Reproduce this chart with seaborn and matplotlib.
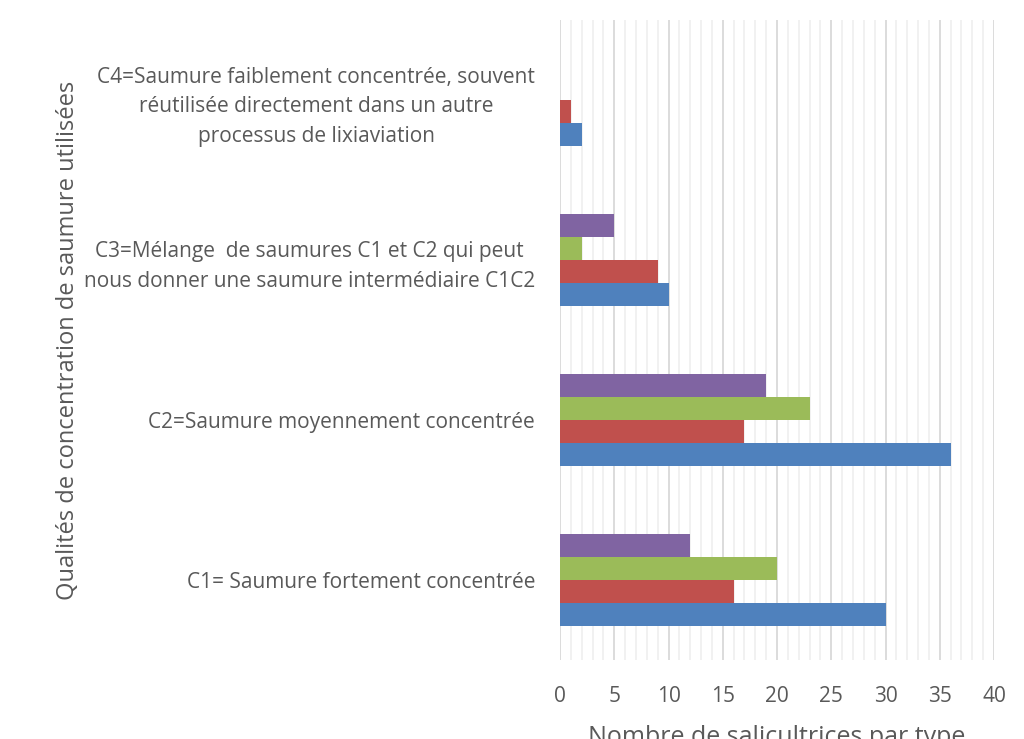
import matplotlib
matplotlib.use("Agg")
import matplotlib.pyplot as plt
import seaborn as sns
import pandas as pd

categories = [
    "C4=Saumure faiblement concentrée, souvent\nréutilisée directement dans un autre\nprocessus de lixiaviation",
    "C3=Mélange  de saumures C1 et C2 qui peut\nnous donner une saumure intermédiaire C1C2",
    "C2=Saumure moyennement concentrée",
    "C1= Saumure fortement concentrée",
]
series = ["Série 4", "Série 3", "Série 2", "Série 1"]  # top to bottom inside a group
serie1 = [2, 10, 36, 30]
serie2 = [1, 9, 17, 16]
serie3 = [0, 2, 23, 20]
serie4 = [0, 5, 19, 12]
colors = ["#8064A2", "#9BBB59", "#C0504D", "#4F81BD"]

values = {"Série 1": serie1, "Série 2": serie2, "Série 3": serie3, "Série 4": serie4}
rows = []
for s, vals in values.items():
    for c, v in zip(categories, vals):
        rows.append({"categorie": c, "serie": s, "valeur": v})
df = pd.DataFrame(rows)

sns.set_style("white")
plt.rcParams["font.family"] = ["Open Sans", "DejaVu Sans"]
text_color = "#595959"

fig = plt.figure(figsize=(10.24, 7.39), dpi=100)
ax = fig.add_axes([0.5469, 0.107, 0.4238, 0.866])

sns.barplot(data=df, x="valeur", y="categorie", hue="serie", order=categories,
            hue_order=series, palette=colors, orient="h", width=0.575,
            saturation=1, linewidth=0, legend=False, ax=ax)

ax.set_xlim(0, 40)
ax.set_xticks(range(0, 41, 5))
ax.set_xticks(range(0, 41, 1), minor=True)
ax.grid(which="major", axis="x", color="#D9D9D9", linewidth=1.3)
ax.grid(which="minor", axis="x", color="#F0F0F0", linewidth=1.3)
ax.set_axisbelow(True)
for sp in ax.spines.values():
    sp.set_visible(False)

ax.tick_params(axis="both", which="both", length=0, colors=text_color)
ax.tick_params(axis="x", labelsize=15, pad=19)
ax.tick_params(axis="y", labelsize=15, pad=18)
for lab in ax.get_yticklabels():
    lab.set_multialignment("center")
    lab.set_linespacing(1.55)

ax.set_xlabel("Nombre de salicultrices par type", fontsize=18, color=text_color, labelpad=13)
ax.set_ylabel("Qualités de concentration de saumure utilisées", fontsize=17,
              color=text_color)
ax.yaxis.set_label_coords(-1.105, 0.5)

fig.savefig("out.png", dpi=100)
